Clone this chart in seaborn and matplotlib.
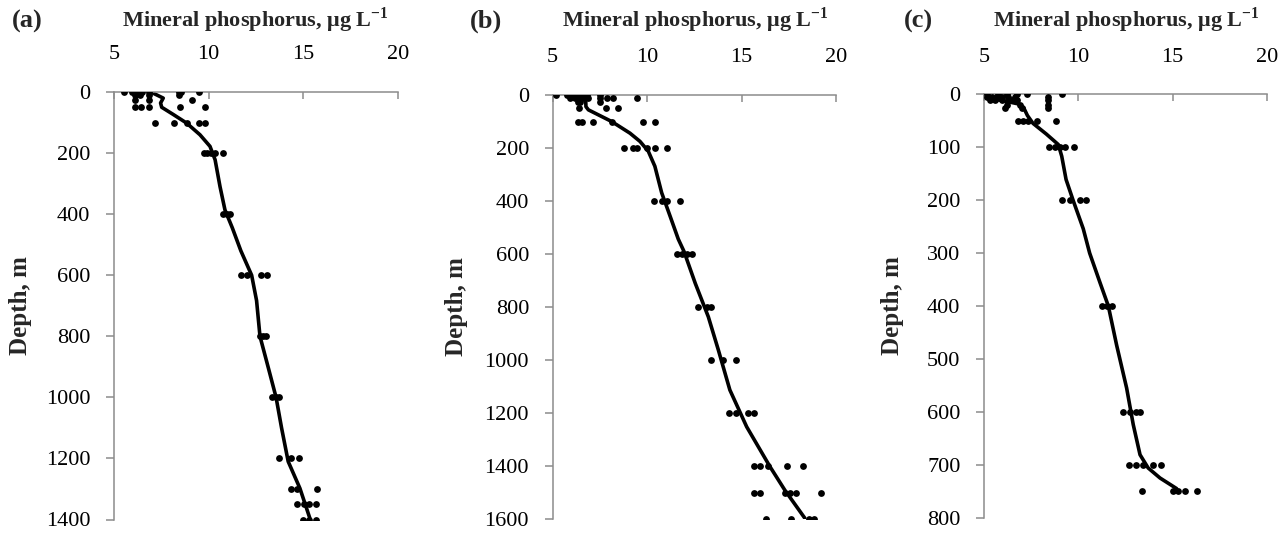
import matplotlib
matplotlib.use("Agg")
import matplotlib.pyplot as plt
import seaborn as sns
import pandas as pd

# ---------------- data ----------------
# Panel (a): points (depth, value)
a_depth = [0]*9 + [10]*4 + [25]*3 + [50]*5 + [100]*5 + [200]*5 + [400]*3 + [600]*4 + [800]*3 + [1000]*3 + [1200]*3 + [1300]*3 + [1350]*4 + [1400]*3
a_value = [5.53, 5.97, 6.14, 6.23, 6.5, 6.87, 8.43, 8.52, 9.47,
           6.1, 6.37, 6.87, 8.45,
           6.1, 6.87, 9.14,
           6.1, 6.4, 6.87, 8.5, 9.8,
           7.18, 8.17, 8.84, 9.47, 9.79,
           9.75, 9.93, 10.1, 10.34, 10.78,
           10.74, 10.95, 11.13,
           11.69, 12.04, 12.75, 13.06,
           12.71, 12.87, 13.03,
           13.35, 13.55, 13.73,
           13.69, 14.33, 14.79,
           14.33, 14.68, 15.7,
           14.68, 15.04, 15.32, 15.67,
           15.0, 15.32, 15.67]
a_curve_value = [7.04, 7.6, 7.46, 7.52, 8.14, 8.84, 9.54, 10.07, 10.34, 10.6, 10.86, 11.25,
                 11.7, 12.27, 12.53, 12.71, 13.15, 13.56, 13.85, 14.2, 14.82, 15.35]
a_curve_depth = [3, 20, 36, 50, 74, 102, 140, 178, 222, 310, 386, 445,
                 520, 600, 683, 800, 903, 1000, 1100, 1210, 1298, 1397]

# Panel (b)
b_depth = [0]*7 + [10]*10 + [25]*3 + [50]*3 + [100]*6 + [200]*6 + [400]*4 + [600]*4 + [800]*3 + [1000]*3 + [1200]*4 + [1400]*5 + [1500]*6 + [1600]*4
b_value = [5.18, 5.74, 6.09, 6.36, 6.59, 6.83, 7.5,
           5.92, 6.18, 6.36, 6.45, 6.62, 6.89, 7.5, 7.86, 8.17, 9.44,
           6.36, 6.45, 7.5,
           6.41, 7.82, 8.47,
           6.36, 6.53, 7.15, 8.12, 9.8, 10.43,
           8.79, 9.27, 9.44, 9.97, 10.41, 11.07,
           10.36, 10.77, 11.03, 11.74,
           11.6, 11.83, 12.1, 12.4,
           12.71, 13.15, 13.36,
           13.36, 14.0, 14.68,
           14.35, 14.73, 15.32, 15.65,
           15.65, 15.97, 16.41, 17.43, 18.26,
           15.65, 15.97, 17.29, 17.56, 17.87, 19.23,
           16.32, 17.61, 18.58, 18.84]
b_curve_value = [6.75, 6.76, 6.89, 8.12, 9.09, 9.62, 10.06, 10.41, 10.77, 11.21, 11.65, 11.95,
                 12.55, 13.24, 13.77, 14.38, 15.27, 16.5, 17.29, 18.35]
b_curve_depth = [25, 44, 56, 100, 144, 175, 212, 269, 369, 456, 544, 590,
                 711, 837, 962, 1113, 1252, 1402, 1491, 1597]

# Panel (c)
c_depth = [0]*6 + [5]*7 + [10]*6 + [20]*3 + [25]*3 + [50]*5 + [100]*5 + [200]*4 + [400]*3 + [600]*4 + [700]*5 + [750]*5
c_value = [5.14, 5.76, 6.2, 6.73, 7.26, 9.12,
           5.14, 5.4, 5.67, 5.93, 6.29, 6.64, 8.4,
           5.32, 5.58, 5.93, 6.46, 6.73, 8.4,
           6.2, 6.9, 8.4,
           6.1, 7.0, 8.4,
           6.82, 7.08, 7.35, 7.83, 8.8,
           8.46, 8.76, 9.03, 9.29, 9.79,
           9.12, 9.56, 10.09, 10.41,
           11.24, 11.5, 11.77,
           12.38, 12.74, 13.04, 13.27,
           12.7, 13.06, 13.45, 13.94, 14.37,
           13.37, 15.0, 15.3, 15.67, 16.3]
c_curve_value = [5.1, 6.0, 6.8, 7.1, 7.3, 7.6, 8.3, 8.94, 9.12, 9.35, 9.73, 10.26, 10.6,
                 11.15, 11.59, 12.03, 12.56, 12.91, 13.27, 13.7, 14.33, 15.21]
c_curve_depth = [7, 12, 18, 25, 40, 55, 75, 95, 117, 161, 201, 254, 300,
                 356, 400, 474, 555, 624, 681, 706, 725, 745]

x_ticks = [5, 10, 15, 20]
a_yticks = [0, 200, 400, 600, 800, 1000, 1200, 1400]
b_yticks = [0, 200, 400, 600, 800, 1000, 1200, 1400, 1600]
c_yticks = [0, 100, 200, 300, 400, 500, 600, 700, 800]
panel_labels = ["(a)", "(b)", "(c)"]
x_title = r"Mineral phosphorus, μg L$^{\mathbf{-1}}$"
y_title = "Depth, m"

# ---------------- style ----------------
sns.set_theme(style="white")
plt.rcParams["font.family"] = ["Liberation Serif", "DejaVu Serif"]
plt.rcParams["mathtext.fontset"] = "custom"
plt.rcParams["mathtext.rm"] = "Liberation Serif"
plt.rcParams["mathtext.bf"] = "Liberation Serif:bold"

W, H = 1281, 534
fig = plt.figure(figsize=(W/100, H/100), dpi=100)

# axes boxes in pixels: left, top, right, bottom
boxes = [(114, 92, 398, 519.5), (552.7, 95, 836, 519), (984, 94.3, 1267, 517.7)]
panels = [
    (a_value, a_depth, a_curve_value, a_curve_depth, a_yticks),
    (b_value, b_depth, b_curve_value, b_curve_depth, b_yticks),
    (c_value, c_depth, c_curve_value, c_curve_depth, c_yticks),
]
title_x = [122, 562, 993]
label_x = [12, 470, 904]
ylab_x = [21, 456, 893]

spine_col = "#8c8c8c"
for i, ((pv, pd_, cv, cd, yt), (l, t, r, b)) in enumerate(zip(panels, boxes)):
    ax = fig.add_axes([l/W, 1-b/H, (r-l)/W, (b-t)/H])
    pts = pd.DataFrame({"value": pv, "depth": pd_})
    crv = pd.DataFrame({"value": cv, "depth": cd})
    sns.lineplot(data=crv, x="value", y="depth", sort=False, estimator=None,
                 color="black", linewidth=2.6, ax=ax, zorder=2)
    sns.scatterplot(data=pts, x="value", y="depth", color="black", s=24,
                    linewidth=0, ax=ax, zorder=3)
    ax.set_xlim(5, 20)
    ax.set_ylim(yt[-1], 0)
    ax.set_xticks(x_ticks)
    ax.set_yticks(yt)
    ax.xaxis.tick_top()
    ax.set_xlabel("")
    ax.set_ylabel("")
    for s in ["right", "bottom"]:
        ax.spines[s].set_visible(False)
    for s in ["top", "left"]:
        ax.spines[s].set_visible(True)
        ax.spines[s].set_color(spine_col)
        ax.spines[s].set_linewidth(1.1)
    ax.tick_params(axis="x", direction="in", length=5, width=1.1, color=spine_col,
                   pad=20, labelsize=16, labelcolor="black", top=True, bottom=False)
    ax.tick_params(axis="y", direction="out", length=6, width=1.1, color=spine_col,
                   pad=11, labelsize=16, labelcolor="black", left=True)
    ax.grid(False)
    ax.set_facecolor("white")
    ax.patch.set_alpha(0)

    fig.text(title_x[i]/W, 1-20/H, x_title, ha="left", va="center",
             fontsize=16, fontweight="bold")
    fig.text(label_x[i]/W, 1-21/H, panel_labels[i], ha="left", va="center",
             fontsize=19, fontweight="bold")
    fig.text(ylab_x[i]/W, 1-((t+b)/2)/H, y_title, ha="center", va="center",
             rotation=90, fontsize=18, fontweight="bold")

fig.savefig("out.png", dpi=100, facecolor="white")
